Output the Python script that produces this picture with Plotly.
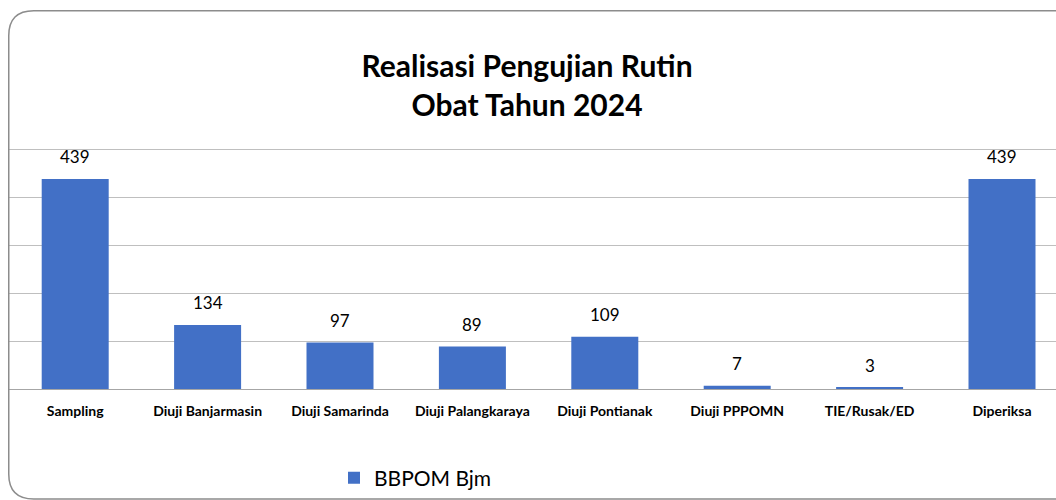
import plotly.graph_objects as go

categories = ["Sampling", "Diuji Banjarmasin", "Diuji Samarinda", "Diuji Palangkaraya",
              "Diuji Pontianak", "Diuji PPPOMN", "TIE/Rusak/ED", "Diperiksa"]
values = [439, 134, 97, 89, 109, 7, 3, 439]
series_name = "BBPOM Bjm"
title_text = "Realisasi Pengujian Rutin<br>Obat Tahun 2024"

W, H = 1056, 500
Y_TOP = 510
BASE_PX, TOP500_PX = 389, 150
ML, MR = 9, 0
MB = H - BASE_PX
PH = (BASE_PX - TOP500_PX) * Y_TOP / 500
MT = H - MB - PH
PW = W - ML - MR

def px(x):
    return (x - ML) / PW

def py(y):
    return (BASE_PX - y) / PH

BAR_COLOR = "#4270C6"
FONT = "Lato"

fig = go.Figure()
fig.add_trace(go.Bar(
    x=list(range(len(categories))), y=values, name=series_name,
    marker=dict(color=BAR_COLOR, line=dict(width=0)),
    width=0.506, showlegend=True,
))

for i, v in enumerate(values):
    fig.add_annotation(x=i, y=v, text=str(v), showarrow=False, yshift=22,
                       xref="x", yref="y", yanchor="middle",
                       font=dict(family=FONT, size=17, color="#000000"))

# rounded border of the chart area
L, T, R, B, r = 8.75, 11, 1090, 499, 25
rx, ry = r / PW, r / PH
path = (f"M {px(L)},{py(T) - ry} "
        f"Q {px(L)},{py(T)} {px(L) + rx},{py(T)} "
        f"L {px(R)},{py(T)} L {px(R)},{py(B)} "
        f"L {px(L) + rx},{py(B)} "
        f"Q {px(L)},{py(B)} {px(L)},{py(B) + ry} Z")
fig.add_shape(type="path", path=path, xref="paper", yref="paper",
              line=dict(color="#8C8C8C", width=1.5), layer="above")

fig.update_layout(
    width=W, height=H,
    margin=dict(l=ML, r=MR, t=MT, b=MB),
    paper_bgcolor="white", plot_bgcolor="white",
    title=dict(text=title_text, x=527 / W, xanchor="center",
               y=1 - 77 / H, yanchor="middle",
               font=dict(family=FONT, size=30, color="#000000", weight="bold")),
    xaxis=dict(tickmode="array", tickvals=list(range(len(categories))),
               ticktext=[f"<b>{c}</b>" for c in categories],
               range=[-0.5, -0.5 + PW / 132.4], showgrid=False, zeroline=False,
               showline=False, ticks="", ticklabelstandoff=12,
               tickfont=dict(family=FONT, size=14, color="#000000")),
    yaxis=dict(range=[0, Y_TOP], tickvals=[0, 100, 200, 300, 400, 500],
               showgrid=True, gridcolor="#BFBFBF",
               gridwidth=1, zeroline=True, zerolinecolor="#A6A6A6", zerolinewidth=1,
               showticklabels=False, showline=False),
    legend=dict(orientation="h", x=px(334), xanchor="left", y=py(478), yanchor="middle",
                font=dict(family=FONT, size=21, color="#000000"),
                bgcolor="rgba(0,0,0,0)"),
    bargap=0.5,
)

fig.write_html("out.html", config={"displayModeBar": False},
               post_script="document.body.style.margin='0';document.body.style.overflow='hidden';")
